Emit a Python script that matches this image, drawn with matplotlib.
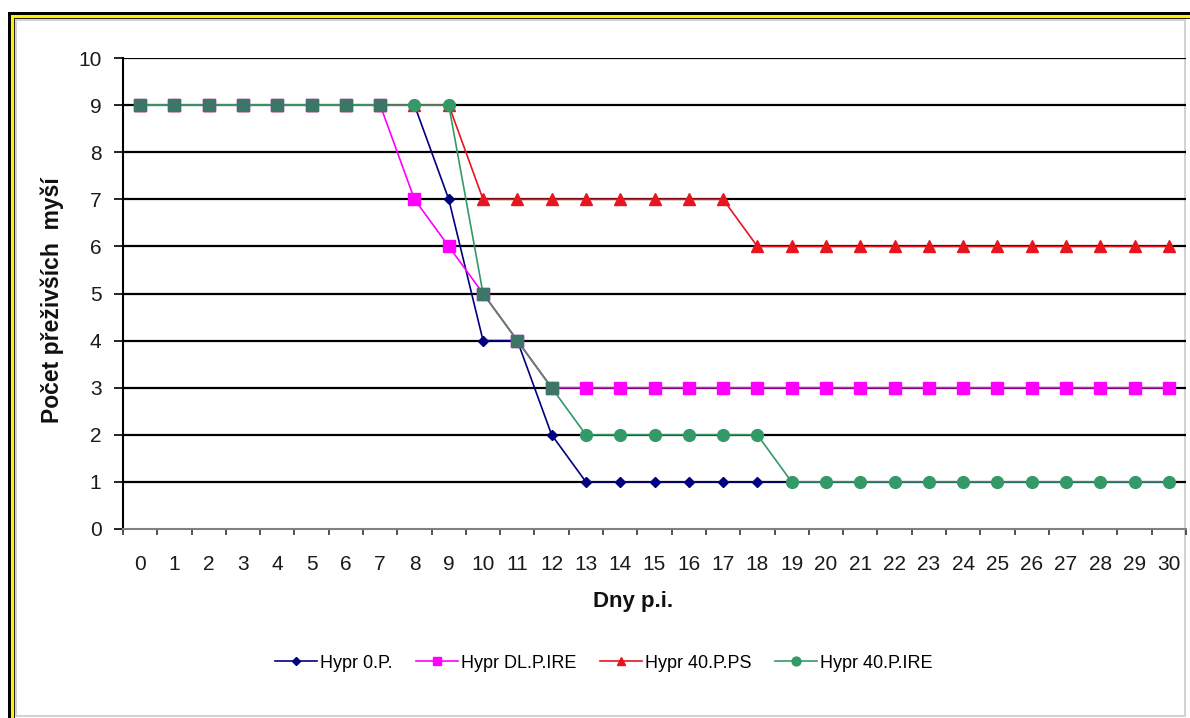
import numpy as np
import matplotlib.pyplot as plt
from matplotlib.patches import Rectangle

plt.rcParams["font.family"] = ["Liberation Sans", "DejaVu Sans"]

days = list(range(31))

hypr_0p = [9, 9, 9, 9, 9, 9, 9, 9, 9, 7, 4, 4, 2] + [1] * 18
hypr_dl_p_ire = [9, 9, 9, 9, 9, 9, 9, 9, 7, 6, 5, 4, 3] + [3] * 18
hypr_40_p_ps = [9] * 10 + [7] * 8 + [6] * 13
hypr_40_p_ire = [9] * 10 + [5, 4, 3] + [2] * 6 + [1] * 12

series_labels = ["Hypr 0.P.", "Hypr DL.P.IRE", "Hypr 40.P.PS", "Hypr 40.P.IRE"]
y_ticks = list(range(11))

W, H = 1190, 718
fig = plt.figure(figsize=(W / 100, H / 100), dpi=100)


def px_rect(x, y, w, h, color, z):
    # rectangle given in pixels from the top-left corner
    fig.patches.append(Rectangle((x / W, 1 - (y + h) / H), w / W, h / H,
                                 transform=fig.transFigure, facecolor=color,
                                 edgecolor="none", zorder=z))


# black/yellow frame on the left and top edge
px_rect(8, 12, W, 3, "black", -3)
px_rect(8, 15, W, 3, "#FFF200", -3)
px_rect(11, 18, W, 1, "#222222", -3)
px_rect(8, 12, 3, H, "black", -3)
px_rect(11, 15, 3, H, "#FFF200", -3)
px_rect(14, 18, 1, H, "#222222", -3)
# inner chart panel
fig.patches.append(Rectangle((16 / W, 2 / H), 1169 / W, (H - 22) / H,
                             transform=fig.transFigure, facecolor="white",
                             edgecolor="#C8CCD0", linewidth=1.2, zorder=-2))

left, right = 123 / W, 1186 / W
bottom, top = (H - 529) / H, (H - 58) / H
ax = fig.add_axes([left, bottom, right - left, top - bottom])
ax.set_facecolor("none")

ax.set_xlim(-0.5, 30.5)
ax.set_ylim(0, 10)

for v in y_ticks[1:]:
    ax.axhline(v, color="black", linewidth=1.6, zorder=1)

ax.plot(days, hypr_0p, color="#000080", marker="D", markersize=5.5,
        linewidth=1.2, label=series_labels[0], zorder=3)
ax.plot(days, hypr_dl_p_ire, color="#FF00FF", marker="s", markersize=8.5,
        linewidth=1.2, label=series_labels[1], zorder=4)
ax.plot(days, hypr_40_p_ps, color="#E8141E", marker="^", markersize=8.5,
        linewidth=1.2, label=series_labels[2], zorder=5)
ax.plot(days, hypr_40_p_ire, color="#339966", marker="o", markersize=8.5,
        linewidth=1.2, label=series_labels[3], zorder=6)

# where the two IRE series share a value the marks blend into a grey-teal square
dl = np.array(hypr_dl_p_ire)
ire = np.array(hypr_40_p_ire)
d = np.array(days)
same = dl == ire
ax.plot(d[same], dl[same], linestyle="none", marker="s", markersize=8.5,
        color="#3D7566", zorder=7)
for i in range(len(days) - 1):
    if same[i] and same[i + 1]:
        col = "#339966" if dl[i] == 9 else "#6E7F78"
        ax.plot(d[i:i + 2], dl[i:i + 2], color=col, linewidth=1.2, zorder=6.5)

ax.spines["top"].set_visible(False)
ax.spines["right"].set_visible(False)
ax.spines["left"].set_color("black")
ax.spines["left"].set_linewidth(1.5)
ax.spines["bottom"].set_color("#808080")
ax.spines["bottom"].set_linewidth(1.5)

ax.set_yticks(y_ticks)
ax.set_xticks(days)
ax.set_xticks(np.arange(-0.5, 31, 1), minor=True)
ax.tick_params(axis="y", direction="out", length=6.5, width=1.2, labelsize=15,
               pad=9, colors="black", labelcolor="#1a1a1a")
ax.tick_params(axis="x", which="major", length=0, labelsize=15, pad=18.5,
               labelcolor="#1a1a1a")
ax.tick_params(axis="x", which="minor", direction="out", length=4.5, width=1.2,
               color="#333333")

fig.text(633 / W, 1 - 601 / H, "Dny p.i.", fontsize=16, fontweight="bold",
         ha="center", va="center", color="#111111")
fig.text(52 / W, 1 - 300 / H, "Počet přeživších  myší", fontsize=16.5,
         fontweight="bold", rotation=90, ha="center", va="center",
         color="#111111")

fig.legend(loc="center", bbox_to_anchor=(604 / W, 1 - 663 / H),
           ncol=4, frameon=False, fontsize=13, handlelength=2.3,
           handletextpad=0.2, columnspacing=1.3, markerscale=0.75)

fig.savefig("out.png", dpi=100)
